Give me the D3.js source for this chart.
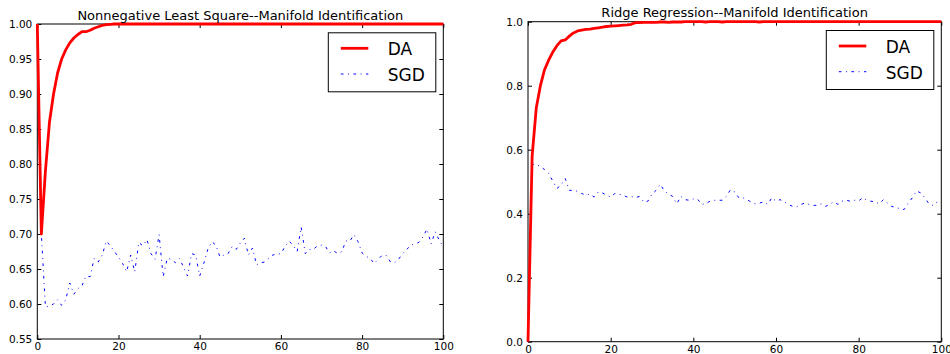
<!DOCTYPE html>
<html>
<head>
<meta charset="utf-8">
<script src="https://cdn.jsdelivr.net/npm/d3@7"></script>
<style>
  html, body { margin: 0; padding: 0; background: #fff; }
  svg { display: block; font-family: "DejaVu Sans", sans-serif; }
</style>
</head>
<body>
<svg id="chart" width="950" height="354"></svg>
<script>
// ---------------- DATA ----------------
const seriesNames = ["DA", "SGD"];
const xTicks = [0, 20, 40, 60, 80, 100];
const leftTitle = "Nonnegative Least Square--Manifold Identification";
const rightTitle = "Ridge Regression--Manifold Identification";
const leftYTicks = [0.55, 0.60, 0.65, 0.70, 0.75, 0.80, 0.85, 0.90, 0.95, 1.00];
const rightYTicks = [0.0, 0.2, 0.4, 0.6, 0.8, 1.0];

// Left panel (iterations 0..100)
const leftDA = [
  1.0, 0.70, 0.79, 0.86, 0.90, 0.93, 0.95, 0.963, 0.973, 0.98,
  0.985, 0.989, 0.989, 0.991, 0.994, 0.996, 0.998, 0.999, 0.9995, 1.0,
  1.0, 1.0, 1.0, 1.0, 1.0, 1.0, 1.0, 1.0, 1.0, 1.0,
  1.0, 1.0, 1.0, 1.0, 1.0, 1.0, 1.0, 1.0, 1.0, 1.0,
  1.0, 1.0, 1.0, 1.0, 1.0, 1.0, 1.0, 1.0, 1.0, 1.0,
  1.0, 1.0, 1.0, 1.0, 1.0, 1.0, 1.0, 1.0, 1.0, 1.0,
  1.0, 1.0, 1.0, 1.0, 1.0, 1.0, 1.0, 1.0, 1.0, 1.0,
  1.0, 1.0, 1.0, 1.0, 1.0, 1.0, 1.0, 1.0, 1.0, 1.0,
  1.0, 1.0, 1.0, 1.0, 1.0, 1.0, 1.0, 1.0, 1.0, 1.0,
  1.0, 1.0, 1.0, 1.0, 1.0, 1.0, 1.0, 1.0, 1.0, 1.0,
  1.0
];
const leftSGD = [
  1.0, 0.700, 0.596, 0.597, 0.600, 0.606, 0.598, 0.606, 0.630, 0.614,
  0.622, 0.626, 0.640, 0.639, 0.665, 0.660, 0.670, 0.690, 0.683, 0.675,
  0.667, 0.658, 0.646, 0.670, 0.646, 0.688, 0.683, 0.692, 0.672, 0.664,
  0.699, 0.639, 0.665, 0.664, 0.659, 0.665, 0.653, 0.640, 0.672, 0.670,
  0.640, 0.658, 0.678, 0.689, 0.684, 0.667, 0.670, 0.672, 0.682, 0.678,
  0.687, 0.694, 0.670, 0.680, 0.656, 0.659, 0.660, 0.665, 0.670, 0.671,
  0.672, 0.682, 0.690, 0.684, 0.675, 0.710, 0.672, 0.678, 0.678, 0.683,
  0.684, 0.682, 0.673, 0.676, 0.672, 0.675, 0.690, 0.690, 0.699, 0.689,
  0.673, 0.668, 0.665, 0.658, 0.664, 0.670, 0.669, 0.660, 0.659, 0.664,
  0.672, 0.678, 0.684, 0.686, 0.688, 0.696, 0.707, 0.686, 0.703, 0.691,
  0.682
];

// Right panel
const rightDA = [
  0.0, 0.58, 0.73, 0.80, 0.85, 0.88, 0.905, 0.925, 0.94, 0.943,
  0.955, 0.965, 0.971, 0.974, 0.976, 0.977, 0.979, 0.981, 0.983, 0.985,
  0.986, 0.987, 0.988, 0.989, 0.990, 0.992, 0.997, 0.997, 0.998, 0.998,
  0.998, 0.998, 0.999, 0.999, 0.998, 0.999, 0.999, 0.999, 1.0, 1.0,
  1.0, 1.0, 1.0, 0.999, 1.0, 1.0, 1.0, 0.999, 1.0, 1.0,
  1.0, 1.0, 1.0, 1.0, 1.0, 1.0, 0.999, 1.0, 1.0, 1.0,
  1.0, 1.0, 1.0, 1.0, 1.0, 1.0, 1.0, 1.0, 1.0, 1.0,
  1.0, 1.0, 1.0, 1.0, 1.0, 1.0, 1.0, 1.0, 1.0, 1.0,
  1.0, 1.0, 1.0, 1.0, 1.0, 1.0, 1.0, 1.0, 1.0, 1.0,
  1.0, 1.0, 1.0, 1.0, 1.0, 1.0, 1.0, 1.0, 1.0, 1.0,
  1.0
];
const rightSGD = [
  0.0, 0.554, 0.554, 0.547, 0.538, 0.526, 0.502, 0.479, 0.489, 0.510,
  0.473, 0.473, 0.470, 0.463, 0.458, 0.461, 0.452, 0.468, 0.465, 0.458,
  0.452, 0.463, 0.461, 0.458, 0.452, 0.454, 0.450, 0.454, 0.437, 0.439,
  0.461, 0.473, 0.492, 0.471, 0.461, 0.454, 0.431, 0.454, 0.444, 0.442,
  0.446, 0.446, 0.429, 0.431, 0.439, 0.442, 0.442, 0.442, 0.454, 0.475,
  0.468, 0.450, 0.450, 0.444, 0.436, 0.431, 0.433, 0.437, 0.429, 0.450,
  0.439, 0.444, 0.437, 0.429, 0.423, 0.421, 0.429, 0.433, 0.429, 0.426,
  0.426, 0.431, 0.423, 0.429, 0.437, 0.429, 0.439, 0.442, 0.439, 0.442,
  0.440, 0.450, 0.442, 0.439, 0.437, 0.431, 0.444, 0.433, 0.423, 0.419,
  0.416, 0.413, 0.433, 0.450, 0.471, 0.465, 0.450, 0.431, 0.426, 0.437
];

// ---------------- DRAW ----------------
const svg = d3.select("#chart");
const FONT = "DejaVu Sans";
const tickFont = 10.5;

const panels = [
  { title: leftTitle, da: leftDA, sgd: leftSGD, yTicks: leftYTicks, yFmt: d3.format(".2f"),
    x0: 37.3, x1: 443.3, y0: 24, y1: 339, yDomain: [0.55, 1.0] },
  { title: rightTitle, da: rightDA, sgd: rightSGD, yTicks: rightYTicks, yFmt: d3.format(".1f"),
    x0: 528, x1: 941.3, y0: 21.7, y1: 341.7, yDomain: [0.0, 1.0] }
];

panels.forEach(p => {
  const x = d3.scaleLinear().domain([0, 100]).range([p.x0, p.x1]);
  const y = d3.scaleLinear().domain(p.yDomain).range([p.y1, p.y0]);
  const g = svg.append("g");

  // axes (matplotlib classic: inward ticks on all sides)
  const tl = 4;
  const bottom = d3.axisBottom(x).tickValues(xTicks).tickSizeInner(-tl).tickSizeOuter(0).tickPadding(3.6).tickFormat(d3.format("d"));
  const top = d3.axisTop(x).tickValues(xTicks).tickSizeInner(-tl).tickSizeOuter(0).tickFormat("");
  const left = d3.axisLeft(y).tickValues(p.yTicks).tickSizeInner(-tl).tickSizeOuter(0).tickPadding(5).tickFormat(p.yFmt);
  const right = d3.axisRight(y).tickValues(p.yTicks).tickSizeInner(-tl).tickSizeOuter(0).tickFormat("");

  const styleAxis = sel => {
    sel.select(".domain").remove();
    sel.selectAll("line").attr("stroke", "#000").attr("stroke-width", 1);
    sel.selectAll("text").attr("font-family", FONT).attr("font-size", tickFont).attr("fill", "#000");
  };
  g.append("g").attr("transform", `translate(0,${p.y1})`).call(bottom).call(styleAxis);
  g.append("g").attr("transform", `translate(0,${p.y0})`).call(top).call(styleAxis);
  g.append("g").attr("transform", `translate(${p.x0},0)`).call(left).call(styleAxis);
  g.append("g").attr("transform", `translate(${p.x1},0)`).call(right).call(styleAxis);

  // frame
  g.append("rect").attr("x", p.x0).attr("y", p.y0)
    .attr("width", p.x1 - p.x0).attr("height", p.y1 - p.y0)
    .attr("fill", "none").attr("stroke", "#000").attr("stroke-width", 1);

  // lines
  const line = d3.line().x((d, i) => x(i)).y(d => y(d));
  g.append("path").datum(p.sgd).attr("d", line)
    .attr("fill", "none").attr("stroke", "#0000ff").attr("stroke-width", 1)
    .attr("stroke-dasharray", "2.7,4.5,0.9,4.5");
  g.append("path").datum(p.da).attr("d", line)
    .attr("fill", "none").attr("stroke", "#ff0000").attr("stroke-width", 2.8)
    .attr("stroke-linejoin", "round");

  // title
  g.append("text").attr("x", (p.x0 + p.x1) / 2).attr("y", p.y0 - 4.5)
    .attr("text-anchor", "middle").attr("font-family", FONT).attr("font-size", 13)
    .attr("fill", "#000").text(p.title);

  // legend
  const lw = 107.5, lh = 59;
  const lx = p.x1 - 7.5 - lw, ly = p.y0 + 8.8;
  const lg = g.append("g").attr("transform", `translate(${lx},${ly})`);
  lg.append("rect").attr("width", lw).attr("height", lh)
    .attr("fill", "#fff").attr("stroke", "#000").attr("stroke-width", 1);
  const rows = [
    { name: seriesNames[0], color: "#ff0000", w: 2.8, dash: null, ly: 15.5, ty: 22.2 },
    { name: seriesNames[1], color: "#0000ff", w: 1, dash: "2.7,4.5,0.9,4.5", ly: 41.2, ty: 48.7 }
  ];
  rows.forEach(r => {
    lg.append("line").attr("x1", 12.5).attr("x2", 40).attr("y1", r.ly).attr("y2", r.ly)
      .attr("stroke", r.color).attr("stroke-width", r.w)
      .attr("stroke-dasharray", r.dash);
    lg.append("text").attr("x", 59.5).attr("y", r.ty)
      .attr("font-family", FONT).attr("font-size", 17).attr("fill", "#000").text(r.name);
  });
});
</script>
</body>
</html>
